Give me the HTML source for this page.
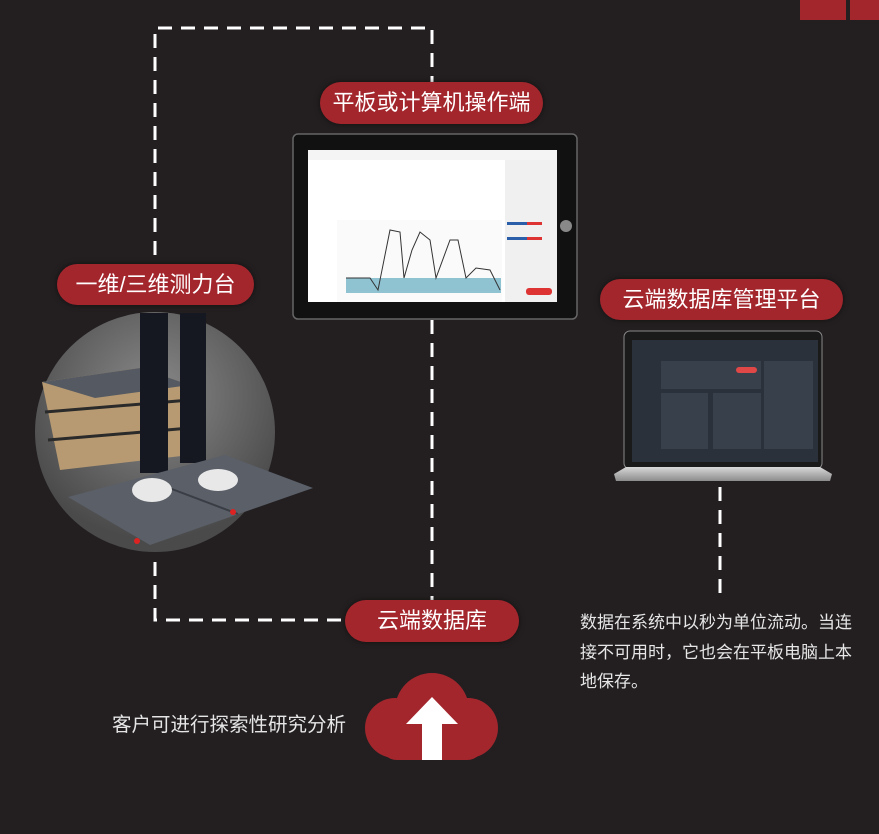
<!DOCTYPE html>
<html><head><meta charset="utf-8"><style>
html,body{margin:0;padding:0;background:#231f20;}
body{width:879px;height:834px;overflow:hidden;position:relative;font-family:"Liberation Sans","Noto Sans CJK SC",sans-serif;}
.pill{position:absolute;background:#a3262d;color:#fff;border-radius:22px;text-align:center;font-size:22px;box-shadow:0 0 6px rgba(0,0,0,.5);}
.txt{position:absolute;color:#e6e6e6;font-size:17px;line-height:29.5px;}
</style></head><body>
<svg width="879" height="834" style="position:absolute;left:0;top:0">
<defs>
<radialGradient id="cg" cx="50%" cy="35%" r="60%"><stop offset="0" stop-color="#8a8a8a"/><stop offset="1" stop-color="#4a4a4a"/></radialGradient>
<linearGradient id="lb" x1="0" y1="0" x2="0" y2="1"><stop offset="0" stop-color="#d8d8d8"/><stop offset="1" stop-color="#8c8c8c"/></linearGradient>
</defs>
<rect x="800" y="0" width="46" height="20" fill="#a3262d"/>
<rect x="850" y="0" width="29" height="20" fill="#a3262d"/>
<g stroke="#fff" stroke-width="3" fill="none" stroke-dasharray="14,9">
<path d="M155 255 V28 H432 V82"/>
<path d="M432 320 V600"/>
<path d="M155 562 V620 H345"/>
<path d="M720 487 V600"/>
</g>
<circle cx="155" cy="432" r="120" fill="url(#cg)"/>
<polygon points="42,382 140,368 190,385 190,455 60,470" fill="#b89a72"/>
<polygon points="42,382 140,368 190,385 95,398" fill="#555a62"/>
<line x1="45" y1="412" x2="190" y2="400" stroke="#2a2a2a" stroke-width="3"/>
<line x1="48" y1="440" x2="190" y2="428" stroke="#2a2a2a" stroke-width="3"/>
<rect x="140" y="313" width="28" height="160" fill="#151820"/>
<rect x="180" y="313" width="26" height="150" fill="#151820"/>
<polygon points="68,497 225,455 313,488 150,545" fill="#5a5f68"/>
<line x1="148" y1="480" x2="238" y2="514" stroke="#3a3d44" stroke-width="2"/>
<ellipse cx="152" cy="490" rx="20" ry="12" fill="#e8e8e8"/>
<ellipse cx="218" cy="480" rx="20" ry="11" fill="#e8e8e8"/>
<circle cx="233" cy="512" r="3" fill="#d22"/><circle cx="137" cy="541" r="3" fill="#d22"/>
<rect x="293" y="134" width="284" height="185" rx="5" fill="#111" stroke="#666" stroke-width="1.5"/>
<rect x="308" y="150" width="249" height="152" fill="#fff"/>
<rect x="308" y="150" width="249" height="10" fill="#f4f4f4"/>
<rect x="337" y="220" width="165" height="82" fill="#fafafa"/>
<rect x="346" y="278" width="155" height="15" fill="#8fc3d2"/>
<polyline points="346,278 370,278 378,290 390,230 400,232 404,278 412,250 420,232 430,240 436,278 450,240 458,240 466,278 476,268 490,270 500,290" fill="none" stroke="#333" stroke-width="1"/>
<rect x="505" y="160" width="52" height="142" fill="#f0f0f0"/>
<rect x="507" y="222" width="20" height="3" fill="#2a5ea8"/><rect x="527" y="222" width="15" height="3" fill="#d33"/>
<rect x="507" y="237" width="20" height="3" fill="#2a5ea8"/><rect x="527" y="237" width="15" height="3" fill="#d33"/>
<rect x="526" y="288" width="26" height="7" rx="3" fill="#d33"/>
<circle cx="566" cy="226" r="6" fill="#888"/>
<rect x="624" y="331" width="198" height="138" rx="6" fill="#1a1a1a" stroke="#888"/>
<rect x="632" y="340" width="186" height="122" fill="#2a313a"/>
<rect x="661" y="361" width="100" height="28" fill="#37404b"/>
<rect x="661" y="393" width="47" height="56" fill="#37404b"/>
<rect x="713" y="393" width="48" height="56" fill="#37404b"/>
<rect x="764" y="361" width="49" height="88" fill="#37404b"/>
<rect x="736" y="367" width="21" height="6" rx="3" fill="#e04848"/>
<polygon points="614,474 626,467 820,467 832,474 830,481 616,481" fill="url(#lb)"/>
<g fill="#a3262d">
<circle cx="432" cy="710" r="37"/>
<circle cx="395" cy="728" r="30"/>
<circle cx="468" cy="728" r="30"/>
<rect x="380" y="725" width="104" height="35" rx="17"/>
</g>
<polygon points="432,697 458,724 442,724 442,760 422,760 422,724 406,724" fill="#fff"/>
</svg>
<div class="pill" style="left:320px;top:82px;width:223px;height:42px;line-height:42px;">平板或计算机操作端</div>
<div class="pill" style="left:57px;top:264px;width:197px;height:41px;line-height:41px;">一维/三维测力台</div>
<div class="pill" style="left:600px;top:279px;width:243px;height:41px;line-height:41px;">云端数据库管理平台</div>
<div class="pill" style="left:345px;top:600px;width:174px;height:42px;line-height:42px;">云端数据库</div>
<div class="txt" style="left:580px;top:608px;width:290px;">数据在系统中以秒为单位流动。当连<br>接不可用时，它也会在平板电脑上本<br>地保存。</div>
<div class="txt" style="left:112px;top:711px;font-size:19.5px;">客户可进行探索性研究分析</div>
</body></html>
